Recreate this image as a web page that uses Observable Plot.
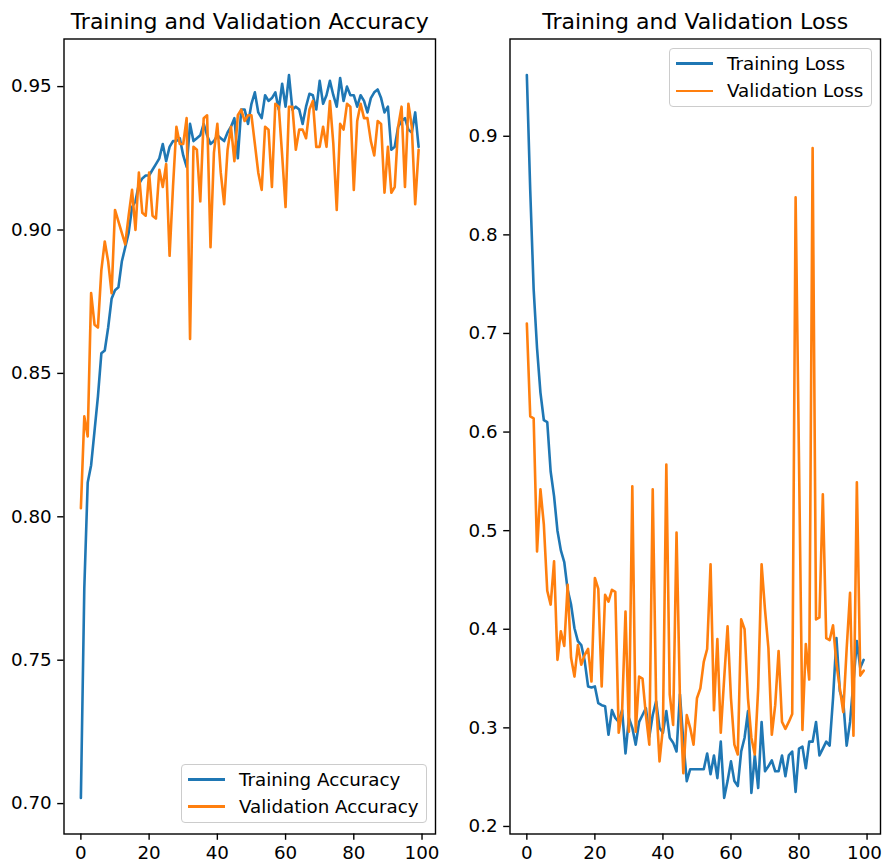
<!DOCTYPE html>
<html><head><meta charset="utf-8">
<script src="https://cdn.jsdelivr.net/npm/d3@7"></script>
<script src="https://cdn.jsdelivr.net/npm/@observablehq/plot@0.6"></script>
<style>
body{margin:0;background:#fff;font-family:"DejaVu Sans",sans-serif;}
#fig{position:relative;width:882px;height:866px;overflow:hidden;background:#fff;}
.panel{position:absolute;top:0;}
.legend{position:absolute;box-sizing:border-box;border:1.4px solid #cccccc;border-radius:4px;background:rgba(255,255,255,0.8);font-size:18.3px;color:#000;}
.legend .txt{position:absolute;white-space:nowrap;line-height:18.3px;}
.legend .sw{position:absolute;height:2.6px;}
</style></head><body><div id="fig"></div>
<script>
const trainAcc = [0.702,0.775,0.812,0.818,0.830,0.842,0.857,0.858,0.866,0.876,
 0.879,0.880,0.889,0.894,0.899,0.908,0.910,0.916,0.918,0.919,
 0.919,0.921,0.923,0.925,0.930,0.924,0.929,0.931,0.931,0.932,
 0.926,0.922,0.937,0.931,0.932,0.933,0.937,0.933,0.930,0.931,
 0.933,0.932,0.931,0.934,0.936,0.939,0.925,0.942,0.942,0.937,
 0.944,0.948,0.941,0.939,0.947,0.945,0.946,0.948,0.942,0.951,
 0.943,0.954,0.942,0.943,0.942,0.937,0.943,0.9475,0.947,0.942,
 0.952,0.944,0.947,0.952,0.947,0.943,0.953,0.945,0.950,0.947,
 0.947,0.943,0.947,0.945,0.941,0.946,0.948,0.949,0.946,0.941,
 0.943,0.928,0.929,0.936,0.938,0.939,0.935,0.934,0.941,0.929];
const valAcc = [0.803,0.835,0.828,0.878,0.867,0.866,0.886,0.896,0.889,0.878,
 0.907,0.903,0.899,0.895,0.905,0.914,0.900,0.920,0.906,0.905,
 0.920,0.905,0.904,0.921,0.915,0.923,0.891,0.915,0.936,0.930,
 0.930,0.939,0.862,0.929,0.928,0.910,0.939,0.940,0.894,0.927,
 0.937,0.920,0.909,0.928,0.936,0.924,0.940,0.942,0.938,0.940,
 0.940,0.930,0.920,0.914,0.936,0.935,0.915,0.944,0.943,0.926,
 0.908,0.943,0.943,0.928,0.935,0.935,0.932,0.942,0.945,0.929,
 0.929,0.936,0.929,0.945,0.930,0.907,0.937,0.935,0.944,0.943,
 0.914,0.938,0.944,0.939,0.939,0.931,0.926,0.938,0.937,0.913,
 0.929,0.913,0.915,0.936,0.943,0.915,0.944,0.936,0.909,0.928];
const trainLoss = [0.962,0.845,0.745,0.685,0.640,0.612,0.610,0.560,0.535,0.500,
 0.480,0.468,0.440,0.425,0.401,0.388,0.384,0.368,0.342,0.341,
 0.342,0.325,0.323,0.322,0.293,0.318,0.310,0.306,0.318,0.274,
 0.310,0.300,0.283,0.306,0.313,0.320,0.291,0.313,0.327,0.300,
 0.295,0.317,0.290,0.285,0.276,0.334,0.286,0.246,0.258,0.258,
 0.258,0.258,0.258,0.274,0.253,0.272,0.249,0.286,0.229,0.246,
 0.266,0.246,0.241,0.276,0.290,0.317,0.234,0.272,0.239,0.306,
 0.256,0.261,0.267,0.256,0.256,0.272,0.251,0.272,0.276,0.235,
 0.279,0.281,0.259,0.286,0.286,0.306,0.272,0.279,0.286,0.282,
 0.330,0.391,0.337,0.327,0.282,0.306,0.347,0.388,0.361,0.369];
const valLoss = [0.710,0.616,0.614,0.479,0.542,0.506,0.439,0.425,0.469,0.369,
 0.398,0.383,0.445,0.371,0.352,0.384,0.364,0.374,0.380,0.347,
 0.452,0.441,0.342,0.435,0.428,0.440,0.438,0.295,0.317,0.418,
 0.296,0.545,0.296,0.352,0.350,0.313,0.283,0.542,0.327,0.266,
 0.300,0.567,0.334,0.303,0.498,0.330,0.254,0.313,0.300,0.283,
 0.330,0.340,0.367,0.380,0.466,0.318,0.390,0.295,0.350,0.403,
 0.330,0.283,0.273,0.410,0.400,0.330,0.290,0.273,0.340,0.466,
 0.420,0.381,0.293,0.323,0.378,0.306,0.299,0.306,0.314,0.838,
 0.570,0.298,0.385,0.349,0.888,0.410,0.412,0.537,0.391,0.389,
 0.404,0.365,0.340,0.316,0.380,0.437,0.292,0.549,0.353,0.358];

const xTicks = [0,20,40,60,80,100];
const accTicks = [0.70,0.75,0.80,0.85,0.90,0.95];
const lossTicks = [0.2,0.3,0.4,0.5,0.6,0.7,0.8,0.9];
const accTitle = "Training and Validation Accuracy";
const lossTitle = "Training and Validation Loss";
const accLabels = ["Training Accuracy","Validation Accuracy"];
const lossLabels = ["Training Loss","Validation Loss"];
const colors = ["#1f77b4","#ff7f0e"];

const W = 441, H = 866, MT = 38.5, MB = 32.5;
const FS = 18.3;

function toRows(arr){ return arr.map((v,i)=>({epoch:i, value:v})); }

function panel({train, val, yTicks, yFmt, title, marginLeft, marginRight, lastDx}){
  const all = train.concat(val);
  const [mn, mx] = d3.extent(all);
  const pad = (mx - mn) * 0.05;
  const n = train.length - 1;
  const xpad = n * 0.05;
  const lastTick = xTicks[xTicks.length - 1];
  const axisText = {label: null, fill: "#000", fontSize: FS};
  return Plot.plot({
    width: W, height: H,
    marginLeft, marginRight, marginTop: MT, marginBottom: MB,
    style: {fontFamily: "DejaVu Sans", fontSize: FS + "px", color: "#000", background: "transparent", overflow: "visible"},
    x: {domain: [-xpad, n + xpad]},
    y: {domain: [mn - pad, mx + pad]},
    marks: [
      Plot.line(toRows(train), {x: "epoch", y: "value", stroke: colors[0], strokeWidth: 2.6, strokeLinejoin: "round"}),
      Plot.line(toRows(val), {x: "epoch", y: "value", stroke: colors[1], strokeWidth: 2.6, strokeLinejoin: "round"}),
      Plot.frame({stroke: "#000", strokeWidth: 1.4, strokeOpacity: 1}),
      Plot.axisX({ticks: xTicks, tickSize: 6.3, tickPadding: 5.5, tickFormat: d => (d === lastTick && lastDx) ? "" : String(d), stroke: "#000", strokeWidth: 1.4, ...axisText}),
      ...(lastDx ? [Plot.axisX({ticks: [lastTick], tickSize: 0, tickPadding: 11.8, dx: lastDx, tickFormat: d => String(d), ...axisText})] : []),
      Plot.axisY({ticks: yTicks, tickSize: 6.3, tickPadding: 6, tickFormat: yFmt, stroke: "#000", strokeWidth: 1.4, ...axisText}),
      Plot.text([title], {frameAnchor: "top", text: d => d, dy: -10.5, lineAnchor: "bottom", fontSize: 22, fill: "#000"})
    ]
  });
}

function legend(parent, {left, top, width, height, rows, labels}){
  const box = document.createElement("div");
  box.className = "legend";
  Object.assign(box.style, {left: left+"px", top: top+"px", width: width+"px", height: height+"px"});
  labels.forEach((lab, i) => {
    const cy = rows[i];
    const sw = document.createElement("div");
    sw.className = "sw";
    Object.assign(sw.style, {left: "6px", top: (cy-1.3)+"px", width: "36.6px", background: colors[i]});
    box.appendChild(sw);
    const t = document.createElement("div");
    t.className = "txt";
    t.textContent = lab;
    Object.assign(t.style, {left: "57px", top: (cy-8.8)+"px"});
    box.appendChild(t);
  });
  parent.appendChild(box);
}

const fig = document.getElementById("fig");
const p1 = panel({train: trainAcc, val: valAcc, yTicks: accTicks, yFmt: d3.format(".2f"), title: accTitle, marginLeft: 63.5, marginRight: 6, lastDx: 0});
const p2 = panel({train: trainLoss, val: valLoss, yTicks: lossTicks, yFmt: d3.format(".1f"), title: lossTitle, marginLeft: 68.5, marginRight: 2, lastDx: -2.5});
p1.classList.add("panel"); p1.style.left = "0px";
p2.classList.add("panel"); p2.style.left = W + "px";
fig.appendChild(p1); fig.appendChild(p2);
legend(fig, {left: 181, top: 764, width: 246, height: 59, rows: [14.5, 41.5], labels: accLabels});
legend(fig, {left: 669, top: 47.5, width: 203, height: 59, rows: [15, 42.5], labels: lossLabels});
</script></body></html>
